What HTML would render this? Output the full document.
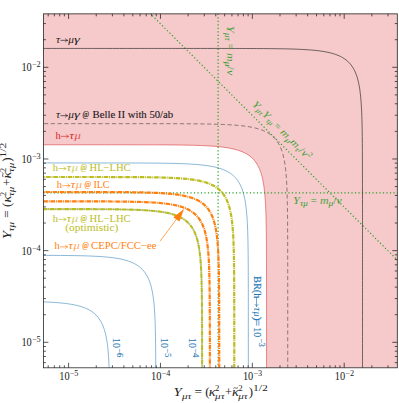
<!DOCTYPE html>
<html><head><meta charset="utf-8"><title>h to tau mu</title>
<style>html,body{margin:0;padding:0;background:#fff;}svg{display:block;}text{font-family:"Liberation Serif",serif;}.i{font-style:italic;}</style></head><body>
<svg width="399" height="403" viewBox="0 0 399 403">
<defs><clipPath id="c"><rect x="43.40" y="13.85" width="353.90" height="353.95"/></clipPath></defs>
<rect x="0" y="0" width="399" height="403" fill="#fff"/>
<g clip-path="url(#c)" fill="none" stroke-linejoin="round">
<path d="M38.40,8.85 L402.30,8.85 L402.30,372.80 L266.54,372.80 L266.54,566.47 L266.54,562.95 L266.54,559.44 L266.54,555.93 L266.54,552.41 L266.54,548.90 L266.54,545.38 L266.54,541.87 L266.54,538.36 L266.54,534.84 L266.54,531.33 L266.54,527.81 L266.54,524.30 L266.54,520.79 L266.54,517.27 L266.54,513.76 L266.54,510.24 L266.54,506.73 L266.54,503.22 L266.54,499.70 L266.54,496.19 L266.54,492.67 L266.54,489.16 L266.54,485.65 L266.54,482.13 L266.54,478.62 L266.54,475.10 L266.54,471.59 L266.54,468.08 L266.54,464.56 L266.54,461.05 L266.54,457.53 L266.54,454.02 L266.54,450.51 L266.54,446.99 L266.54,443.48 L266.54,439.96 L266.54,436.45 L266.54,432.94 L266.54,429.42 L266.54,425.91 L266.54,422.39 L266.54,418.88 L266.54,415.37 L266.54,411.85 L266.54,408.34 L266.54,404.82 L266.54,401.31 L266.54,397.80 L266.54,394.28 L266.54,390.77 L266.54,387.25 L266.54,383.74 L266.54,380.23 L266.54,376.71 L266.54,373.20 L266.54,369.68 L266.54,366.17 L266.54,362.66 L266.54,359.14 L266.54,355.63 L266.54,352.11 L266.54,348.60 L266.54,345.09 L266.54,341.57 L266.54,338.06 L266.54,334.54 L266.54,331.03 L266.54,327.52 L266.54,324.00 L266.54,320.49 L266.54,316.98 L266.54,313.46 L266.54,309.95 L266.54,306.44 L266.54,302.92 L266.54,299.41 L266.53,295.90 L266.53,292.39 L266.53,288.88 L266.53,285.36 L266.52,281.85 L266.52,278.34 L266.52,274.83 L266.51,271.33 L266.50,267.82 L266.50,264.31 L266.49,260.81 L266.47,257.30 L266.46,253.80 L266.45,250.31 L266.43,246.81 L266.40,243.32 L266.38,239.83 L266.34,236.35 L266.30,232.88 L266.26,229.41 L266.20,225.95 L266.14,222.50 L266.06,219.06 L265.97,215.64 L265.86,212.24 L265.73,208.85 L265.58,205.49 L265.39,202.16 L265.18,198.86 L264.93,195.60 L264.63,192.38 L264.28,189.21 L263.87,186.11 L263.39,183.07 L262.84,180.11 L262.20,177.24 L261.46,174.46 L260.61,171.80 L259.64,169.25 L258.54,166.83 L257.31,164.54 L255.93,162.41 L254.40,160.42 L252.72,158.58 L250.88,156.90 L248.89,155.38 L246.74,154.00 L244.46,152.77 L242.03,151.68 L239.48,150.71 L236.80,149.86 L234.02,149.13 L231.14,148.48 L228.18,147.93 L225.13,147.45 L222.02,147.05 L218.85,146.70 L215.62,146.40 L212.36,146.15 L209.05,145.93 L205.71,145.75 L202.34,145.60 L198.95,145.47 L195.54,145.36 L192.11,145.27 L188.66,145.19 L185.21,145.13 L181.74,145.07 L178.26,145.03 L174.78,144.99 L171.29,144.95 L167.80,144.93 L164.30,144.90 L160.79,144.89 L157.29,144.87 L153.78,144.86 L150.27,144.84 L146.76,144.84 L143.24,144.83 L139.73,144.82 L136.21,144.82 L132.70,144.81 L129.18,144.81 L125.66,144.80 L122.14,144.80 L118.62,144.80 L115.10,144.80 L111.58,144.79 L108.06,144.79 L104.54,144.79 L101.02,144.79 L97.50,144.79 L93.98,144.79 L90.46,144.79 L86.94,144.79 L83.42,144.79 L79.89,144.79 L76.37,144.79 L72.85,144.79 L69.33,144.79 L65.81,144.79 L62.29,144.79 L58.76,144.79 L55.24,144.79 L51.72,144.79 L48.20,144.79 L44.68,144.79 L41.16,144.79 L37.64,144.79 L34.11,144.79 L30.59,144.79 L27.07,144.79 L23.55,144.79 L20.03,144.79 L16.51,144.79 L12.98,144.79 L9.46,144.79 L5.94,144.79 L2.42,144.79 L-1.10,144.79 L-4.62,144.79 L-8.15,144.79 L-11.67,144.79 L-15.19,144.79 L-18.71,144.79 L-22.23,144.79 L-25.75,144.79 L-29.28,144.79 L-32.80,144.79 L-36.32,144.79 L-39.84,144.79 L-43.36,144.79 L-46.88,144.79 L-50.41,144.79 L-53.93,144.79 L-57.45,144.79 L-60.97,144.79 L-64.49,144.79 L-68.02,144.79 L-71.54,144.79 L-75.06,144.79 L-78.58,144.79 L-82.10,144.79 L-85.62,144.79 L-89.15,144.79 L-92.67,144.79 L-96.19,144.79 L-99.71,144.79 L-103.23,144.79 L-106.75,144.79 L-110.28,144.79 L-113.80,144.79 L-117.32,144.79 L-120.84,144.79 L-124.36,144.79 L-127.88,144.79 L-131.41,144.79 L-134.93,144.79 L-138.45,144.79 L-141.97,144.79 L-145.49,144.79 L-149.01,144.79 L-152.54,144.79 L-156.06,144.79 L38.40,144.79Z" fill="#f6c9ca" stroke="none"/>
<path d="M266.54,566.47 L266.54,562.95 L266.54,559.44 L266.54,555.93 L266.54,552.41 L266.54,548.90 L266.54,545.38 L266.54,541.87 L266.54,538.36 L266.54,534.84 L266.54,531.33 L266.54,527.81 L266.54,524.30 L266.54,520.79 L266.54,517.27 L266.54,513.76 L266.54,510.24 L266.54,506.73 L266.54,503.22 L266.54,499.70 L266.54,496.19 L266.54,492.67 L266.54,489.16 L266.54,485.65 L266.54,482.13 L266.54,478.62 L266.54,475.10 L266.54,471.59 L266.54,468.08 L266.54,464.56 L266.54,461.05 L266.54,457.53 L266.54,454.02 L266.54,450.51 L266.54,446.99 L266.54,443.48 L266.54,439.96 L266.54,436.45 L266.54,432.94 L266.54,429.42 L266.54,425.91 L266.54,422.39 L266.54,418.88 L266.54,415.37 L266.54,411.85 L266.54,408.34 L266.54,404.82 L266.54,401.31 L266.54,397.80 L266.54,394.28 L266.54,390.77 L266.54,387.25 L266.54,383.74 L266.54,380.23 L266.54,376.71 L266.54,373.20 L266.54,369.68 L266.54,366.17 L266.54,362.66 L266.54,359.14 L266.54,355.63 L266.54,352.11 L266.54,348.60 L266.54,345.09 L266.54,341.57 L266.54,338.06 L266.54,334.54 L266.54,331.03 L266.54,327.52 L266.54,324.00 L266.54,320.49 L266.54,316.98 L266.54,313.46 L266.54,309.95 L266.54,306.44 L266.54,302.92 L266.54,299.41 L266.53,295.90 L266.53,292.39 L266.53,288.88 L266.53,285.36 L266.52,281.85 L266.52,278.34 L266.52,274.83 L266.51,271.33 L266.50,267.82 L266.50,264.31 L266.49,260.81 L266.47,257.30 L266.46,253.80 L266.45,250.31 L266.43,246.81 L266.40,243.32 L266.38,239.83 L266.34,236.35 L266.30,232.88 L266.26,229.41 L266.20,225.95 L266.14,222.50 L266.06,219.06 L265.97,215.64 L265.86,212.24 L265.73,208.85 L265.58,205.49 L265.39,202.16 L265.18,198.86 L264.93,195.60 L264.63,192.38 L264.28,189.21 L263.87,186.11 L263.39,183.07 L262.84,180.11 L262.20,177.24 L261.46,174.46 L260.61,171.80 L259.64,169.25 L258.54,166.83 L257.31,164.54 L255.93,162.41 L254.40,160.42 L252.72,158.58 L250.88,156.90 L248.89,155.38 L246.74,154.00 L244.46,152.77 L242.03,151.68 L239.48,150.71 L236.80,149.86 L234.02,149.13 L231.14,148.48 L228.18,147.93 L225.13,147.45 L222.02,147.05 L218.85,146.70 L215.62,146.40 L212.36,146.15 L209.05,145.93 L205.71,145.75 L202.34,145.60 L198.95,145.47 L195.54,145.36 L192.11,145.27 L188.66,145.19 L185.21,145.13 L181.74,145.07 L178.26,145.03 L174.78,144.99 L171.29,144.95 L167.80,144.93 L164.30,144.90 L160.79,144.89 L157.29,144.87 L153.78,144.86 L150.27,144.84 L146.76,144.84 L143.24,144.83 L139.73,144.82 L136.21,144.82 L132.70,144.81 L129.18,144.81 L125.66,144.80 L122.14,144.80 L118.62,144.80 L115.10,144.80 L111.58,144.79 L108.06,144.79 L104.54,144.79 L101.02,144.79 L97.50,144.79 L93.98,144.79 L90.46,144.79 L86.94,144.79 L83.42,144.79 L79.89,144.79 L76.37,144.79 L72.85,144.79 L69.33,144.79 L65.81,144.79 L62.29,144.79 L58.76,144.79 L55.24,144.79 L51.72,144.79 L48.20,144.79 L44.68,144.79 L41.16,144.79 L37.64,144.79 L34.11,144.79 L30.59,144.79 L27.07,144.79 L23.55,144.79 L20.03,144.79 L16.51,144.79 L12.98,144.79 L9.46,144.79 L5.94,144.79 L2.42,144.79 L-1.10,144.79 L-4.62,144.79 L-8.15,144.79 L-11.67,144.79 L-15.19,144.79 L-18.71,144.79 L-22.23,144.79 L-25.75,144.79 L-29.28,144.79 L-32.80,144.79 L-36.32,144.79 L-39.84,144.79 L-43.36,144.79 L-46.88,144.79 L-50.41,144.79 L-53.93,144.79 L-57.45,144.79 L-60.97,144.79 L-64.49,144.79 L-68.02,144.79 L-71.54,144.79 L-75.06,144.79 L-78.58,144.79 L-82.10,144.79 L-85.62,144.79 L-89.15,144.79 L-92.67,144.79 L-96.19,144.79 L-99.71,144.79 L-103.23,144.79 L-106.75,144.79 L-110.28,144.79 L-113.80,144.79 L-117.32,144.79 L-120.84,144.79 L-124.36,144.79 L-127.88,144.79 L-131.41,144.79 L-134.93,144.79 L-138.45,144.79 L-141.97,144.79 L-145.49,144.79 L-149.01,144.79 L-152.54,144.79 L-156.06,144.79" stroke="#d62728" stroke-width="0.7" stroke-opacity="0.75"/>
<path d="M248.35,584.63 L248.35,581.11 L248.35,577.60 L248.35,574.08 L248.35,570.57 L248.35,567.06 L248.35,563.54 L248.35,560.03 L248.35,556.51 L248.35,553.00 L248.35,549.49 L248.35,545.97 L248.35,542.46 L248.35,538.94 L248.35,535.43 L248.35,531.92 L248.35,528.40 L248.35,524.89 L248.35,521.37 L248.35,517.86 L248.35,514.35 L248.35,510.83 L248.35,507.32 L248.35,503.80 L248.35,500.29 L248.35,496.78 L248.35,493.26 L248.35,489.75 L248.35,486.23 L248.35,482.72 L248.35,479.21 L248.35,475.69 L248.35,472.18 L248.35,468.66 L248.35,465.15 L248.35,461.64 L248.35,458.12 L248.35,454.61 L248.35,451.09 L248.35,447.58 L248.35,444.07 L248.35,440.55 L248.35,437.04 L248.35,433.52 L248.35,430.01 L248.35,426.50 L248.35,422.98 L248.35,419.47 L248.35,415.95 L248.35,412.44 L248.35,408.93 L248.35,405.41 L248.35,401.90 L248.35,398.38 L248.35,394.87 L248.35,391.36 L248.35,387.84 L248.35,384.33 L248.35,380.81 L248.35,377.30 L248.35,373.79 L248.35,370.27 L248.35,366.76 L248.35,363.24 L248.35,359.73 L248.35,356.22 L248.35,352.70 L248.35,349.19 L248.35,345.67 L248.34,342.16 L248.34,338.65 L248.34,335.13 L248.34,331.62 L248.34,328.11 L248.34,324.59 L248.34,321.08 L248.34,317.57 L248.34,314.06 L248.34,310.54 L248.33,307.03 L248.33,303.52 L248.33,300.01 L248.32,296.50 L248.32,292.99 L248.31,289.48 L248.31,285.98 L248.30,282.47 L248.29,278.97 L248.28,275.46 L248.26,271.96 L248.25,268.46 L248.23,264.97 L248.21,261.48 L248.18,257.99 L248.15,254.51 L248.11,251.03 L248.06,247.57 L248.01,244.11 L247.94,240.66 L247.86,237.22 L247.77,233.80 L247.66,230.39 L247.53,227.01 L247.38,223.65 L247.20,220.32 L246.98,217.02 L246.73,213.75 L246.43,210.54 L246.08,207.37 L245.67,204.27 L245.20,201.23 L244.64,198.27 L244.00,195.40 L243.26,192.62 L242.41,189.95 L241.44,187.41 L240.34,184.99 L239.11,182.70 L237.73,180.56 L236.20,178.58 L234.52,176.74 L232.68,175.06 L230.69,173.54 L228.55,172.16 L226.26,170.93 L223.83,169.84 L221.28,168.87 L218.61,168.02 L215.82,167.28 L212.95,166.64 L209.98,166.09 L206.93,165.61 L203.82,165.20 L200.65,164.86 L197.43,164.56 L194.16,164.31 L190.85,164.09 L187.51,163.91 L184.14,163.76 L180.75,163.63 L177.34,163.52 L173.91,163.43 L170.46,163.35 L167.01,163.28 L163.54,163.23 L160.06,163.18 L156.58,163.15 L153.09,163.11 L149.60,163.09 L146.10,163.06 L142.60,163.04 L139.09,163.03 L135.58,163.01 L132.07,163.00 L128.56,162.99 L125.05,162.99 L121.53,162.98 L118.02,162.97 L114.50,162.97 L110.98,162.96 L107.46,162.96 L103.94,162.96 L100.42,162.96 L96.90,162.95 L93.38,162.95 L89.86,162.95 L86.34,162.95 L82.82,162.95 L79.30,162.95 L75.78,162.95 L72.26,162.95 L68.74,162.95 L65.22,162.95 L61.70,162.95 L58.17,162.95 L54.65,162.95 L51.13,162.95 L47.61,162.94 L44.09,162.94 L40.57,162.94 L37.05,162.94 L33.52,162.94 L30.00,162.94 L26.48,162.94 L22.96,162.94 L19.44,162.94 L15.92,162.94 L12.39,162.94 L8.87,162.94 L5.35,162.94 L1.83,162.94 L-1.69,162.94 L-5.21,162.94 L-8.74,162.94 L-12.26,162.94 L-15.78,162.94 L-19.30,162.94 L-22.82,162.94 L-26.34,162.94 L-29.87,162.94 L-33.39,162.94 L-36.91,162.94 L-40.43,162.94 L-43.95,162.94 L-47.47,162.94 L-51.00,162.94 L-54.52,162.94 L-58.04,162.94 L-61.56,162.94 L-65.08,162.94 L-68.60,162.94 L-72.13,162.94 L-75.65,162.94 L-79.17,162.94 L-82.69,162.94 L-86.21,162.94 L-89.73,162.94 L-93.26,162.94 L-96.78,162.94 L-100.30,162.94 L-103.82,162.94 L-107.34,162.94 L-110.86,162.94 L-114.39,162.94 L-117.91,162.94 L-121.43,162.94 L-124.95,162.94 L-128.47,162.94 L-131.99,162.94 L-135.52,162.94 L-139.04,162.94 L-142.56,162.94 L-146.08,162.94 L-149.60,162.94 L-153.12,162.94 L-156.65,162.94 L-160.17,162.94 L-163.69,162.94 L-167.21,162.94 L-170.73,162.94 L-174.25,162.94" stroke="#1f77b4" stroke-width="0.85" stroke-opacity="0.62"/>
<path d="M202.11,630.77 L202.11,627.25 L202.11,623.74 L202.11,620.22 L202.11,616.71 L202.11,613.20 L202.11,609.68 L202.11,606.17 L202.11,602.65 L202.11,599.14 L202.11,595.63 L202.11,592.11 L202.11,588.60 L202.11,585.08 L202.11,581.57 L202.11,578.06 L202.11,574.54 L202.11,571.03 L202.11,567.51 L202.11,564.00 L202.11,560.49 L202.11,556.97 L202.11,553.46 L202.11,549.94 L202.11,546.43 L202.11,542.92 L202.11,539.40 L202.11,535.89 L202.11,532.37 L202.11,528.86 L202.11,525.35 L202.11,521.83 L202.11,518.32 L202.11,514.80 L202.11,511.29 L202.11,507.78 L202.11,504.26 L202.11,500.75 L202.11,497.23 L202.11,493.72 L202.11,490.21 L202.11,486.69 L202.11,483.18 L202.11,479.66 L202.11,476.15 L202.11,472.64 L202.11,469.12 L202.11,465.61 L202.11,462.09 L202.11,458.58 L202.11,455.07 L202.11,451.55 L202.11,448.04 L202.11,444.52 L202.11,441.01 L202.11,437.50 L202.11,433.98 L202.11,430.47 L202.11,426.95 L202.11,423.44 L202.11,419.93 L202.11,416.41 L202.11,412.90 L202.11,409.38 L202.11,405.87 L202.11,402.36 L202.10,398.84 L202.10,395.33 L202.10,391.82 L202.10,388.30 L202.10,384.79 L202.10,381.27 L202.10,377.76 L202.10,374.25 L202.10,370.73 L202.10,367.22 L202.10,363.71 L202.10,360.20 L202.09,356.68 L202.09,353.17 L202.09,349.66 L202.09,346.15 L202.08,342.64 L202.08,339.13 L202.07,335.62 L202.07,332.12 L202.06,328.61 L202.05,325.11 L202.04,321.60 L202.02,318.10 L202.01,314.60 L201.99,311.11 L201.96,307.62 L201.94,304.13 L201.90,300.65 L201.87,297.17 L201.82,293.71 L201.77,290.25 L201.70,286.80 L201.62,283.36 L201.53,279.94 L201.42,276.53 L201.29,273.15 L201.14,269.79 L200.96,266.46 L200.74,263.16 L200.49,259.89 L200.19,256.68 L199.84,253.51 L199.43,250.41 L198.95,247.37 L198.40,244.41 L197.76,241.54 L197.02,238.76 L196.17,236.09 L195.20,233.55 L194.10,231.13 L192.87,228.84 L191.49,226.70 L189.96,224.72 L188.28,222.88 L186.44,221.20 L184.45,219.68 L182.30,218.30 L180.02,217.07 L177.59,215.98 L175.04,215.01 L172.36,214.16 L169.58,213.42 L166.70,212.78 L163.74,212.23 L160.69,211.75 L157.58,211.34 L154.41,211.00 L151.19,210.70 L147.92,210.45 L144.61,210.23 L141.27,210.05 L137.90,209.90 L134.51,209.77 L131.10,209.66 L127.67,209.57 L124.22,209.49 L120.77,209.42 L117.30,209.37 L113.82,209.32 L110.34,209.29 L106.85,209.25 L103.36,209.23 L99.86,209.20 L96.36,209.18 L92.85,209.17 L89.34,209.15 L85.83,209.14 L82.32,209.13 L78.81,209.13 L75.29,209.12 L71.78,209.11 L68.26,209.11 L64.74,209.10 L61.22,209.10 L57.70,209.10 L54.18,209.10 L50.66,209.09 L47.14,209.09 L43.62,209.09 L40.10,209.09 L36.58,209.09 L33.06,209.09 L29.54,209.09 L26.02,209.09 L22.50,209.09 L18.98,209.09 L15.46,209.09 L11.93,209.09 L8.41,209.09 L4.89,209.09 L1.37,209.09 L-2.15,209.09 L-5.67,209.08 L-9.20,209.08 L-12.72,209.08 L-16.24,209.08 L-19.76,209.08 L-23.28,209.08 L-26.80,209.08 L-30.32,209.08 L-33.85,209.08 L-37.37,209.08 L-40.89,209.08 L-44.41,209.08 L-47.93,209.08 L-51.45,209.08 L-54.98,209.08 L-58.50,209.08 L-62.02,209.08 L-65.54,209.08 L-69.06,209.08 L-72.58,209.08 L-76.11,209.08 L-79.63,209.08 L-83.15,209.08 L-86.67,209.08 L-90.19,209.08 L-93.72,209.08 L-97.24,209.08 L-100.76,209.08 L-104.28,209.08 L-107.80,209.08 L-111.32,209.08 L-114.85,209.08 L-118.37,209.08 L-121.89,209.08 L-125.41,209.08 L-128.93,209.08 L-132.45,209.08 L-135.98,209.08 L-139.50,209.08 L-143.02,209.08 L-146.54,209.08 L-150.06,209.08 L-153.58,209.08 L-157.11,209.08 L-160.63,209.08 L-164.15,209.08 L-167.67,209.08 L-171.19,209.08 L-174.71,209.08 L-178.24,209.08 L-181.76,209.08 L-185.28,209.08 L-188.80,209.08 L-192.32,209.08 L-195.84,209.08 L-199.37,209.08 L-202.89,209.08 L-206.41,209.08 L-209.93,209.08 L-213.45,209.08 L-216.97,209.08 L-220.50,209.08" stroke="#1f77b4" stroke-width="0.85" stroke-opacity="0.62"/>
<path d="M155.81,676.96 L155.81,673.45 L155.81,669.93 L155.81,666.42 L155.81,662.91 L155.81,659.39 L155.81,655.88 L155.81,652.36 L155.81,648.85 L155.81,645.34 L155.81,641.82 L155.81,638.31 L155.81,634.79 L155.81,631.28 L155.81,627.77 L155.81,624.25 L155.81,620.74 L155.81,617.22 L155.81,613.71 L155.81,610.20 L155.81,606.68 L155.81,603.17 L155.81,599.65 L155.81,596.14 L155.81,592.63 L155.81,589.11 L155.81,585.60 L155.81,582.08 L155.81,578.57 L155.81,575.05 L155.81,571.54 L155.81,568.03 L155.81,564.51 L155.81,561.00 L155.81,557.48 L155.81,553.97 L155.81,550.46 L155.81,546.94 L155.81,543.43 L155.81,539.91 L155.81,536.40 L155.81,532.89 L155.81,529.37 L155.81,525.86 L155.81,522.34 L155.81,518.83 L155.81,515.32 L155.81,511.80 L155.81,508.29 L155.81,504.77 L155.81,501.26 L155.81,497.75 L155.81,494.23 L155.81,490.72 L155.81,487.20 L155.81,483.69 L155.81,480.18 L155.81,476.66 L155.81,473.15 L155.81,469.63 L155.81,466.12 L155.81,462.61 L155.81,459.09 L155.81,455.58 L155.81,452.07 L155.81,448.55 L155.81,445.04 L155.81,441.52 L155.81,438.01 L155.81,434.50 L155.81,430.98 L155.81,427.47 L155.81,423.96 L155.81,420.44 L155.80,416.93 L155.80,413.42 L155.80,409.90 L155.80,406.39 L155.80,402.88 L155.80,399.37 L155.79,395.86 L155.79,392.35 L155.79,388.84 L155.78,385.33 L155.78,381.82 L155.77,378.31 L155.76,374.81 L155.75,371.30 L155.74,367.80 L155.73,364.30 L155.71,360.80 L155.69,357.30 L155.67,353.81 L155.64,350.33 L155.61,346.84 L155.57,343.37 L155.52,339.90 L155.47,336.44 L155.40,332.99 L155.33,329.56 L155.23,326.13 L155.13,322.73 L155.00,319.34 L154.84,315.98 L154.66,312.65 L154.45,309.35 L154.19,306.09 L153.90,302.87 L153.55,299.71 L153.14,296.60 L152.66,293.56 L152.10,290.60 L151.46,287.73 L150.72,284.96 L149.87,282.29 L148.90,279.74 L147.81,277.32 L146.57,275.04 L145.20,272.90 L143.67,270.91 L141.98,269.08 L140.14,267.40 L138.15,265.87 L136.01,264.50 L133.72,263.26 L131.30,262.17 L128.74,261.21 L126.07,260.36 L123.29,259.62 L120.41,258.98 L117.44,258.42 L114.40,257.95 L111.29,257.54 L108.11,257.19 L104.89,256.89 L101.62,256.64 L98.31,256.43 L94.97,256.25 L91.61,256.09 L88.21,255.96 L84.80,255.85 L81.37,255.76 L77.93,255.68 L74.47,255.62 L71.00,255.57 L67.53,255.52 L64.05,255.48 L60.56,255.45 L57.06,255.42 L53.56,255.40 L50.06,255.38 L46.55,255.36 L43.05,255.35 L39.54,255.34 L36.02,255.33 L32.51,255.32 L29.00,255.31 L25.48,255.31 L21.96,255.30 L18.44,255.30 L14.93,255.30 L11.41,255.29 L7.89,255.29 L4.37,255.29 L0.85,255.29 L-2.67,255.29 L-6.19,255.29 L-9.71,255.28 L-13.23,255.28 L-16.76,255.28 L-20.28,255.28 L-23.80,255.28 L-27.32,255.28 L-30.84,255.28 L-34.36,255.28 L-37.88,255.28 L-41.40,255.28 L-44.93,255.28 L-48.45,255.28 L-51.97,255.28 L-55.49,255.28 L-59.01,255.28 L-62.53,255.28 L-66.06,255.28 L-69.58,255.28 L-73.10,255.28 L-76.62,255.28 L-80.14,255.28 L-83.66,255.28 L-87.19,255.28 L-90.71,255.28 L-94.23,255.28 L-97.75,255.28 L-101.27,255.28 L-104.79,255.28 L-108.32,255.28 L-111.84,255.28 L-115.36,255.28 L-118.88,255.28 L-122.40,255.28 L-125.92,255.28 L-129.45,255.28 L-132.97,255.28 L-136.49,255.28 L-140.01,255.28 L-143.53,255.28 L-147.05,255.28 L-150.58,255.28 L-154.10,255.28 L-157.62,255.28 L-161.14,255.28 L-164.66,255.28 L-168.18,255.28 L-171.71,255.28 L-175.23,255.28 L-178.75,255.28 L-182.27,255.28 L-185.79,255.28 L-189.31,255.28 L-192.84,255.28 L-196.36,255.28 L-199.88,255.28 L-203.40,255.28 L-206.92,255.28 L-210.44,255.28 L-213.97,255.28 L-217.49,255.28 L-221.01,255.28 L-224.53,255.28 L-228.05,255.28 L-231.57,255.28 L-235.10,255.28 L-238.62,255.28 L-242.14,255.28 L-245.66,255.28 L-249.18,255.28 L-252.70,255.28 L-256.23,255.28 L-259.75,255.28 L-263.27,255.28 L-266.79,255.28" stroke="#1f77b4" stroke-width="0.85" stroke-opacity="0.62"/>
<path d="M109.81,722.86 L109.81,719.35 L109.81,715.83 L109.81,712.32 L109.81,708.80 L109.81,705.29 L109.81,701.77 L109.81,698.26 L109.81,694.75 L109.81,691.23 L109.81,687.72 L109.81,684.20 L109.81,680.69 L109.81,677.18 L109.81,673.66 L109.81,670.15 L109.81,666.63 L109.81,663.12 L109.81,659.61 L109.81,656.09 L109.81,652.58 L109.81,649.06 L109.81,645.55 L109.81,642.04 L109.81,638.52 L109.81,635.01 L109.81,631.49 L109.81,627.98 L109.81,624.47 L109.81,620.95 L109.81,617.44 L109.81,613.92 L109.81,610.41 L109.81,606.90 L109.81,603.38 L109.81,599.87 L109.81,596.35 L109.81,592.84 L109.81,589.33 L109.81,585.81 L109.81,582.30 L109.81,578.78 L109.81,575.27 L109.81,571.76 L109.81,568.24 L109.81,564.73 L109.81,561.21 L109.81,557.70 L109.81,554.19 L109.81,550.67 L109.81,547.16 L109.81,543.64 L109.81,540.13 L109.81,536.62 L109.81,533.10 L109.81,529.59 L109.81,526.07 L109.81,522.56 L109.81,519.05 L109.81,515.53 L109.81,512.02 L109.81,508.50 L109.81,504.99 L109.81,501.48 L109.81,497.96 L109.81,494.45 L109.81,490.94 L109.81,487.42 L109.81,483.91 L109.81,480.39 L109.81,476.88 L109.81,473.37 L109.81,469.85 L109.81,466.34 L109.81,462.83 L109.81,459.31 L109.80,455.80 L109.80,452.29 L109.80,448.78 L109.80,445.27 L109.80,441.75 L109.79,438.24 L109.79,434.73 L109.78,431.22 L109.78,427.72 L109.77,424.21 L109.76,420.70 L109.75,417.20 L109.74,413.70 L109.73,410.20 L109.71,406.70 L109.69,403.20 L109.67,399.71 L109.64,396.22 L109.61,392.74 L109.57,389.27 L109.53,385.80 L109.47,382.34 L109.41,378.89 L109.33,375.45 L109.24,372.03 L109.13,368.63 L109.00,365.24 L108.84,361.88 L108.66,358.55 L108.45,355.25 L108.20,351.99 L107.90,348.77 L107.55,345.61 L107.14,342.50 L106.66,339.46 L106.11,336.50 L105.46,333.63 L104.72,330.85 L103.87,328.19 L102.91,325.64 L101.81,323.22 L100.58,320.94 L99.20,318.80 L97.67,316.81 L95.98,314.97 L94.15,313.30 L92.15,311.77 L90.01,310.39 L87.72,309.16 L85.30,308.07 L82.74,307.10 L80.07,306.26 L77.29,305.52 L74.41,304.88 L71.44,304.32 L68.40,303.85 L65.29,303.44 L62.12,303.09 L58.89,302.79 L55.62,302.54 L52.32,302.32 L48.98,302.14 L45.61,301.99 L42.22,301.86 L38.80,301.75 L35.37,301.66 L31.93,301.58 L28.47,301.52 L25.01,301.46 L21.53,301.42 L18.05,301.38 L14.56,301.35 L11.06,301.32 L7.56,301.30 L4.06,301.28 L0.56,301.26 L-2.95,301.25 L-6.46,301.24 L-9.97,301.23 L-13.49,301.22 L-17.00,301.21 L-20.52,301.21 L-24.04,301.20 L-27.55,301.20 L-31.07,301.19 L-34.59,301.19 L-38.11,301.19 L-41.63,301.19 L-45.15,301.19 L-48.67,301.18 L-52.19,301.18 L-55.71,301.18 L-59.23,301.18 L-62.75,301.18 L-66.27,301.18 L-69.80,301.18 L-73.32,301.18 L-76.84,301.18 L-80.36,301.18 L-83.88,301.18 L-87.40,301.18 L-90.92,301.18 L-94.45,301.18 L-97.97,301.18 L-101.49,301.18 L-105.01,301.18 L-108.53,301.18 L-112.05,301.18 L-115.58,301.18 L-119.10,301.18 L-122.62,301.18 L-126.14,301.18 L-129.66,301.18 L-133.18,301.18 L-136.71,301.18 L-140.23,301.18 L-143.75,301.18 L-147.27,301.18 L-150.79,301.18 L-154.31,301.18 L-157.84,301.18 L-161.36,301.18 L-164.88,301.18 L-168.40,301.18 L-171.92,301.18 L-175.44,301.18 L-178.97,301.18 L-182.49,301.18 L-186.01,301.18 L-189.53,301.18 L-193.05,301.18 L-196.57,301.18 L-200.10,301.18 L-203.62,301.18 L-207.14,301.18 L-210.66,301.18 L-214.18,301.18 L-217.70,301.18 L-221.23,301.18 L-224.75,301.18 L-228.27,301.18 L-231.79,301.18 L-235.31,301.18 L-238.83,301.18 L-242.36,301.18 L-245.88,301.18 L-249.40,301.18 L-252.92,301.18 L-256.44,301.18 L-259.96,301.18 L-263.49,301.18 L-267.01,301.18 L-270.53,301.18 L-274.05,301.18 L-277.57,301.18 L-281.09,301.18 L-284.62,301.18 L-288.14,301.18 L-291.66,301.18 L-295.18,301.18 L-298.70,301.18 L-302.22,301.18 L-305.75,301.18 L-309.27,301.18 L-312.79,301.18" stroke="#1f77b4" stroke-width="0.85" stroke-opacity="0.62"/>
<path d="M218.10,13.85 V367.80" stroke="#2ca02c" stroke-width="1.2" stroke-dasharray="1.2 2.3"/>
<path d="M43.40,192.90 H397.30" stroke="#2ca02c" stroke-width="1.2" stroke-dasharray="1.2 2.3"/>
<path d="M139.79,3.13 L408.51,271.27" stroke="#2ca02c" stroke-width="1.2" stroke-dasharray="1.2 2.3"/>
<path d="M362.50,470.12 L362.50,466.61 L362.50,463.09 L362.50,459.58 L362.50,456.07 L362.50,452.55 L362.50,449.04 L362.50,445.52 L362.50,442.01 L362.50,438.50 L362.50,434.98 L362.50,431.47 L362.50,427.95 L362.50,424.44 L362.50,420.93 L362.50,417.41 L362.50,413.90 L362.50,410.38 L362.50,406.87 L362.50,403.35 L362.50,399.84 L362.50,396.33 L362.50,392.81 L362.50,389.30 L362.50,385.78 L362.50,382.27 L362.50,378.76 L362.50,375.24 L362.50,371.73 L362.50,368.21 L362.50,364.70 L362.50,361.19 L362.50,357.67 L362.50,354.16 L362.50,350.64 L362.50,347.13 L362.50,343.62 L362.50,340.10 L362.50,336.59 L362.50,333.07 L362.50,329.56 L362.50,326.05 L362.50,322.53 L362.50,319.02 L362.50,315.50 L362.50,311.99 L362.50,308.48 L362.50,304.96 L362.50,301.45 L362.50,297.93 L362.50,294.42 L362.50,290.91 L362.50,287.39 L362.50,283.88 L362.50,280.36 L362.50,276.85 L362.50,273.34 L362.50,269.82 L362.50,266.31 L362.50,262.79 L362.50,259.28 L362.50,255.77 L362.50,252.25 L362.50,248.74 L362.50,245.23 L362.50,241.71 L362.50,238.20 L362.50,234.68 L362.50,231.17 L362.50,227.66 L362.50,224.14 L362.50,220.63 L362.50,217.12 L362.50,213.60 L362.50,210.09 L362.49,206.58 L362.49,203.06 L362.49,199.55 L362.49,196.04 L362.49,192.53 L362.48,189.02 L362.48,185.51 L362.48,182.00 L362.47,178.49 L362.47,174.98 L362.46,171.47 L362.45,167.97 L362.44,164.46 L362.43,160.96 L362.42,157.46 L362.40,153.96 L362.38,150.46 L362.36,146.97 L362.33,143.49 L362.30,140.00 L362.26,136.53 L362.21,133.06 L362.16,129.60 L362.09,126.15 L362.02,122.72 L361.93,119.29 L361.82,115.89 L361.69,112.50 L361.53,109.14 L361.35,105.81 L361.14,102.51 L360.88,99.25 L360.59,96.03 L360.24,92.87 L359.83,89.76 L359.35,86.72 L358.79,83.76 L358.15,80.89 L357.41,78.12 L356.56,75.45 L355.59,72.90 L354.50,70.48 L353.26,68.20 L351.89,66.06 L350.36,64.07 L348.67,62.24 L346.83,60.56 L344.84,59.03 L342.70,57.66 L340.41,56.42 L337.99,55.33 L335.43,54.36 L332.76,53.52 L329.98,52.78 L327.10,52.14 L324.13,51.58 L321.09,51.11 L317.98,50.70 L314.80,50.35 L311.58,50.05 L308.31,49.80 L305.00,49.59 L301.66,49.41 L298.30,49.25 L294.90,49.12 L291.49,49.01 L288.06,48.92 L284.62,48.84 L281.16,48.78 L277.69,48.72 L274.22,48.68 L270.74,48.64 L267.25,48.61 L263.75,48.58 L260.25,48.56 L256.75,48.54 L253.25,48.52 L249.74,48.51 L246.23,48.50 L242.71,48.49 L239.20,48.48 L235.69,48.47 L232.17,48.47 L228.65,48.46 L225.14,48.46 L221.62,48.46 L218.10,48.45 L214.58,48.45 L211.06,48.45 L207.54,48.45 L204.02,48.45 L200.50,48.45 L196.98,48.44 L193.46,48.44 L189.94,48.44 L186.41,48.44 L182.89,48.44 L179.37,48.44 L175.85,48.44 L172.33,48.44 L168.81,48.44 L165.29,48.44 L161.76,48.44 L158.24,48.44 L154.72,48.44 L151.20,48.44 L147.68,48.44 L144.16,48.44 L140.63,48.44 L137.11,48.44 L133.59,48.44 L130.07,48.44 L126.55,48.44 L123.03,48.44 L119.50,48.44 L115.98,48.44 L112.46,48.44 L108.94,48.44 L105.42,48.44 L101.90,48.44 L98.37,48.44 L94.85,48.44 L91.33,48.44 L87.81,48.44 L84.29,48.44 L80.77,48.44 L77.24,48.44 L73.72,48.44 L70.20,48.44 L66.68,48.44 L63.16,48.44 L59.64,48.44 L56.11,48.44 L52.59,48.44 L49.07,48.44 L45.55,48.44 L42.03,48.44 L38.51,48.44 L34.98,48.44 L31.46,48.44 L27.94,48.44 L24.42,48.44 L20.90,48.44 L17.38,48.44 L13.85,48.44 L10.33,48.44 L6.81,48.44 L3.29,48.44 L-0.23,48.44 L-3.75,48.44 L-7.28,48.44 L-10.80,48.44 L-14.32,48.44 L-17.84,48.44 L-21.36,48.44 L-24.88,48.44 L-28.41,48.44 L-31.93,48.44 L-35.45,48.44 L-38.97,48.44 L-42.49,48.44 L-46.01,48.44 L-49.54,48.44 L-53.06,48.44 L-56.58,48.44 L-60.10,48.44" stroke="#333" stroke-width="0.7"/>
<path d="M287.72,545.34 L287.72,541.82 L287.72,538.31 L287.72,534.79 L287.72,531.28 L287.72,527.77 L287.72,524.25 L287.72,520.74 L287.72,517.22 L287.72,513.71 L287.72,510.20 L287.72,506.68 L287.72,503.17 L287.72,499.65 L287.72,496.14 L287.72,492.63 L287.72,489.11 L287.72,485.60 L287.72,482.08 L287.72,478.57 L287.72,475.06 L287.72,471.54 L287.72,468.03 L287.72,464.51 L287.72,461.00 L287.72,457.49 L287.72,453.97 L287.72,450.46 L287.72,446.94 L287.72,443.43 L287.72,439.92 L287.72,436.40 L287.72,432.89 L287.72,429.37 L287.72,425.86 L287.72,422.35 L287.72,418.83 L287.72,415.32 L287.72,411.80 L287.72,408.29 L287.72,404.78 L287.72,401.26 L287.72,397.75 L287.72,394.23 L287.72,390.72 L287.72,387.21 L287.72,383.69 L287.72,380.18 L287.72,376.66 L287.72,373.15 L287.72,369.64 L287.72,366.12 L287.72,362.61 L287.72,359.09 L287.72,355.58 L287.72,352.07 L287.72,348.55 L287.72,345.04 L287.72,341.52 L287.72,338.01 L287.72,334.50 L287.72,330.98 L287.72,327.47 L287.72,323.95 L287.72,320.44 L287.72,316.93 L287.72,313.41 L287.72,309.90 L287.72,306.39 L287.72,302.87 L287.72,299.36 L287.72,295.84 L287.72,292.33 L287.72,288.82 L287.72,285.30 L287.72,281.79 L287.71,278.28 L287.71,274.77 L287.71,271.25 L287.71,267.74 L287.71,264.23 L287.70,260.72 L287.70,257.21 L287.69,253.70 L287.69,250.19 L287.68,246.69 L287.67,243.18 L287.66,239.68 L287.65,236.17 L287.64,232.67 L287.62,229.17 L287.60,225.68 L287.58,222.19 L287.55,218.70 L287.52,215.22 L287.48,211.74 L287.44,208.28 L287.38,204.82 L287.32,201.37 L287.24,197.93 L287.15,194.51 L287.04,191.10 L286.91,187.72 L286.75,184.36 L286.57,181.03 L286.36,177.73 L286.11,174.46 L285.81,171.25 L285.46,168.08 L285.05,164.98 L284.57,161.94 L284.02,158.98 L283.37,156.11 L282.63,153.33 L281.78,150.66 L280.82,148.12 L279.72,145.70 L278.49,143.41 L277.11,141.27 L275.58,139.29 L273.89,137.45 L272.06,135.77 L270.06,134.25 L267.92,132.87 L265.63,131.64 L263.21,130.55 L260.65,129.58 L257.98,128.73 L255.20,127.99 L252.32,127.35 L249.35,126.80 L246.31,126.32 L243.20,125.91 L240.03,125.57 L236.80,125.27 L233.53,125.02 L230.23,124.80 L226.89,124.62 L223.52,124.47 L220.13,124.34 L216.71,124.23 L213.28,124.14 L209.84,124.06 L206.38,123.99 L202.92,123.94 L199.44,123.89 L195.96,123.86 L192.47,123.82 L188.97,123.80 L185.48,123.77 L181.97,123.75 L178.47,123.74 L174.96,123.72 L171.45,123.71 L167.94,123.70 L164.42,123.70 L160.91,123.69 L157.39,123.68 L153.87,123.68 L150.36,123.67 L146.84,123.67 L143.32,123.67 L139.80,123.67 L136.28,123.66 L132.76,123.66 L129.24,123.66 L125.72,123.66 L122.20,123.66 L118.68,123.66 L115.16,123.66 L111.64,123.66 L108.11,123.66 L104.59,123.66 L101.07,123.66 L97.55,123.66 L94.03,123.66 L90.51,123.66 L86.99,123.66 L83.46,123.65 L79.94,123.65 L76.42,123.65 L72.90,123.65 L69.38,123.65 L65.86,123.65 L62.33,123.65 L58.81,123.65 L55.29,123.65 L51.77,123.65 L48.25,123.65 L44.73,123.65 L41.20,123.65 L37.68,123.65 L34.16,123.65 L30.64,123.65 L27.12,123.65 L23.60,123.65 L20.07,123.65 L16.55,123.65 L13.03,123.65 L9.51,123.65 L5.99,123.65 L2.47,123.65 L-1.06,123.65 L-4.58,123.65 L-8.10,123.65 L-11.62,123.65 L-15.14,123.65 L-18.66,123.65 L-22.19,123.65 L-25.71,123.65 L-29.23,123.65 L-32.75,123.65 L-36.27,123.65 L-39.79,123.65 L-43.32,123.65 L-46.84,123.65 L-50.36,123.65 L-53.88,123.65 L-57.40,123.65 L-60.92,123.65 L-64.45,123.65 L-67.97,123.65 L-71.49,123.65 L-75.01,123.65 L-78.53,123.65 L-82.05,123.65 L-85.58,123.65 L-89.10,123.65 L-92.62,123.65 L-96.14,123.65 L-99.66,123.65 L-103.18,123.65 L-106.71,123.65 L-110.23,123.65 L-113.75,123.65 L-117.27,123.65 L-120.79,123.65 L-124.31,123.65 L-127.84,123.65 L-131.36,123.65 L-134.88,123.65" stroke="#333" stroke-width="0.55" stroke-dasharray="4.2 2.6"/>
<path d="M234.27,598.67 L234.27,595.16 L234.27,591.64 L234.27,588.13 L234.27,584.61 L234.27,581.10 L234.27,577.58 L234.27,574.07 L234.27,570.56 L234.27,567.04 L234.27,563.53 L234.27,560.01 L234.27,556.50 L234.27,552.99 L234.27,549.47 L234.27,545.96 L234.27,542.44 L234.27,538.93 L234.27,535.42 L234.27,531.90 L234.27,528.39 L234.27,524.87 L234.27,521.36 L234.27,517.85 L234.27,514.33 L234.27,510.82 L234.27,507.30 L234.27,503.79 L234.27,500.28 L234.27,496.76 L234.27,493.25 L234.27,489.73 L234.27,486.22 L234.27,482.71 L234.27,479.19 L234.27,475.68 L234.27,472.16 L234.27,468.65 L234.27,465.14 L234.27,461.62 L234.27,458.11 L234.27,454.59 L234.27,451.08 L234.27,447.57 L234.27,444.05 L234.27,440.54 L234.27,437.02 L234.27,433.51 L234.27,430.00 L234.27,426.48 L234.27,422.97 L234.27,419.45 L234.27,415.94 L234.27,412.43 L234.27,408.91 L234.27,405.40 L234.27,401.88 L234.27,398.37 L234.27,394.86 L234.27,391.34 L234.27,387.83 L234.27,384.31 L234.27,380.80 L234.27,377.29 L234.27,373.77 L234.27,370.26 L234.27,366.75 L234.27,363.23 L234.27,359.72 L234.27,356.20 L234.27,352.69 L234.27,349.18 L234.27,345.66 L234.27,342.15 L234.27,338.64 L234.27,335.12 L234.27,331.61 L234.26,328.10 L234.26,324.59 L234.26,321.08 L234.26,317.56 L234.25,314.05 L234.25,310.54 L234.24,307.03 L234.24,303.53 L234.23,300.02 L234.22,296.51 L234.21,293.01 L234.20,289.51 L234.19,286.01 L234.17,282.51 L234.15,279.01 L234.13,275.52 L234.10,272.03 L234.07,268.55 L234.03,265.08 L233.99,261.61 L233.93,258.15 L233.87,254.70 L233.79,251.26 L233.70,247.84 L233.59,244.44 L233.46,241.05 L233.31,237.69 L233.12,234.36 L232.91,231.06 L232.66,227.80 L232.36,224.58 L232.01,221.42 L231.60,218.31 L231.12,215.27 L230.57,212.31 L229.92,209.44 L229.18,206.66 L228.34,204.00 L227.37,201.45 L226.27,199.03 L225.04,196.75 L223.66,194.61 L222.13,192.62 L220.45,190.78 L218.61,189.11 L216.61,187.58 L214.47,186.20 L212.18,184.97 L209.76,183.88 L207.20,182.91 L204.53,182.07 L201.75,181.33 L198.87,180.69 L195.91,180.13 L192.86,179.66 L189.75,179.25 L186.58,178.90 L183.35,178.60 L180.08,178.35 L176.78,178.13 L173.44,177.95 L170.07,177.80 L166.68,177.67 L163.26,177.56 L159.83,177.47 L156.39,177.39 L152.93,177.33 L149.47,177.27 L145.99,177.23 L142.51,177.19 L139.02,177.16 L135.52,177.13 L132.03,177.11 L128.52,177.09 L125.02,177.07 L121.51,177.06 L118.00,177.05 L114.49,177.04 L110.97,177.03 L107.46,177.02 L103.94,177.02 L100.43,177.01 L96.91,177.01 L93.39,177.00 L89.87,177.00 L86.35,177.00 L82.83,177.00 L79.31,177.00 L75.79,176.99 L72.27,176.99 L68.75,176.99 L65.23,176.99 L61.71,176.99 L58.19,176.99 L54.67,176.99 L51.14,176.99 L47.62,176.99 L44.10,176.99 L40.58,176.99 L37.06,176.99 L33.54,176.99 L30.02,176.99 L26.49,176.99 L22.97,176.99 L19.45,176.99 L15.93,176.99 L12.41,176.99 L8.89,176.99 L5.36,176.99 L1.84,176.99 L-1.68,176.99 L-5.20,176.99 L-8.72,176.99 L-12.24,176.99 L-15.77,176.99 L-19.29,176.99 L-22.81,176.99 L-26.33,176.99 L-29.85,176.99 L-33.37,176.99 L-36.90,176.99 L-40.42,176.99 L-43.94,176.99 L-47.46,176.99 L-50.98,176.99 L-54.50,176.99 L-58.03,176.99 L-61.55,176.99 L-65.07,176.99 L-68.59,176.99 L-72.11,176.99 L-75.63,176.99 L-79.16,176.99 L-82.68,176.99 L-86.20,176.99 L-89.72,176.99 L-93.24,176.99 L-96.76,176.99 L-100.29,176.99 L-103.81,176.99 L-107.33,176.99 L-110.85,176.99 L-114.37,176.99 L-117.89,176.99 L-121.42,176.99 L-124.94,176.99 L-128.46,176.99 L-131.98,176.99 L-135.50,176.99 L-139.02,176.99 L-142.55,176.99 L-146.07,176.99 L-149.59,176.99 L-153.11,176.99 L-156.63,176.99 L-160.15,176.99 L-163.68,176.99 L-167.20,176.99 L-170.72,176.99 L-174.24,176.99 L-177.76,176.99 L-181.29,176.99 L-184.81,176.99 L-188.33,176.99" stroke="#bcbd22" stroke-width="2.2" stroke-dasharray="4.6 0.8 1.0 0.8"/>
<path d="M219.21,613.70 L219.21,610.19 L219.21,606.67 L219.21,603.16 L219.21,599.64 L219.21,596.13 L219.21,592.62 L219.21,589.10 L219.21,585.59 L219.21,582.07 L219.21,578.56 L219.21,575.05 L219.21,571.53 L219.21,568.02 L219.21,564.50 L219.21,560.99 L219.21,557.48 L219.21,553.96 L219.21,550.45 L219.21,546.93 L219.21,543.42 L219.21,539.91 L219.21,536.39 L219.21,532.88 L219.21,529.36 L219.21,525.85 L219.21,522.34 L219.21,518.82 L219.21,515.31 L219.21,511.79 L219.21,508.28 L219.21,504.77 L219.21,501.25 L219.21,497.74 L219.21,494.22 L219.21,490.71 L219.21,487.20 L219.21,483.68 L219.21,480.17 L219.21,476.65 L219.21,473.14 L219.21,469.63 L219.21,466.11 L219.21,462.60 L219.21,459.08 L219.21,455.57 L219.21,452.06 L219.21,448.54 L219.21,445.03 L219.21,441.51 L219.21,438.00 L219.21,434.49 L219.21,430.97 L219.21,427.46 L219.21,423.94 L219.21,420.43 L219.21,416.92 L219.21,413.40 L219.21,409.89 L219.21,406.37 L219.21,402.86 L219.21,399.35 L219.21,395.83 L219.21,392.32 L219.21,388.80 L219.21,385.29 L219.21,381.78 L219.21,378.26 L219.21,374.75 L219.21,371.24 L219.21,367.72 L219.21,364.21 L219.21,360.70 L219.20,357.18 L219.20,353.67 L219.20,350.16 L219.20,346.64 L219.20,343.13 L219.20,339.62 L219.20,336.11 L219.19,332.60 L219.19,329.09 L219.19,325.58 L219.18,322.07 L219.17,318.56 L219.17,315.05 L219.16,311.54 L219.15,308.04 L219.14,304.54 L219.13,301.04 L219.11,297.54 L219.09,294.04 L219.07,290.55 L219.04,287.07 L219.01,283.58 L218.97,280.11 L218.92,276.64 L218.87,273.18 L218.80,269.73 L218.73,266.30 L218.63,262.87 L218.52,259.47 L218.39,256.08 L218.24,252.72 L218.06,249.39 L217.85,246.09 L217.59,242.83 L217.29,239.61 L216.94,236.45 L216.54,233.34 L216.06,230.30 L215.50,227.34 L214.86,224.47 L214.12,221.69 L213.27,219.03 L212.30,216.48 L211.21,214.06 L209.97,211.78 L208.59,209.64 L207.07,207.65 L205.38,205.82 L203.54,204.14 L201.55,202.61 L199.41,201.23 L197.12,200.00 L194.69,198.91 L192.14,197.94 L189.47,197.10 L186.69,196.36 L183.81,195.72 L180.84,195.16 L177.80,194.69 L174.68,194.28 L171.51,193.93 L168.29,193.63 L165.02,193.38 L161.71,193.17 L158.37,192.98 L155.00,192.83 L151.61,192.70 L148.20,192.59 L144.77,192.50 L141.33,192.42 L137.87,192.36 L134.40,192.30 L130.93,192.26 L127.44,192.22 L123.96,192.19 L120.46,192.16 L116.96,192.14 L113.46,192.12 L109.95,192.10 L106.45,192.09 L102.94,192.08 L99.42,192.07 L95.91,192.06 L92.39,192.05 L88.88,192.05 L85.36,192.04 L81.84,192.04 L78.33,192.04 L74.81,192.03 L71.29,192.03 L67.77,192.03 L64.25,192.03 L60.73,192.03 L57.21,192.02 L53.69,192.02 L50.16,192.02 L46.64,192.02 L43.12,192.02 L39.60,192.02 L36.08,192.02 L32.56,192.02 L29.04,192.02 L25.52,192.02 L21.99,192.02 L18.47,192.02 L14.95,192.02 L11.43,192.02 L7.91,192.02 L4.39,192.02 L0.86,192.02 L-2.66,192.02 L-6.18,192.02 L-9.70,192.02 L-13.22,192.02 L-16.74,192.02 L-20.26,192.02 L-23.79,192.02 L-27.31,192.02 L-30.83,192.02 L-34.35,192.02 L-37.87,192.02 L-41.39,192.02 L-44.92,192.02 L-48.44,192.02 L-51.96,192.02 L-55.48,192.02 L-59.00,192.02 L-62.53,192.02 L-66.05,192.02 L-69.57,192.02 L-73.09,192.02 L-76.61,192.02 L-80.13,192.02 L-83.66,192.02 L-87.18,192.02 L-90.70,192.02 L-94.22,192.02 L-97.74,192.02 L-101.26,192.02 L-104.79,192.02 L-108.31,192.02 L-111.83,192.02 L-115.35,192.02 L-118.87,192.02 L-122.39,192.02 L-125.92,192.02 L-129.44,192.02 L-132.96,192.02 L-136.48,192.02 L-140.00,192.02 L-143.52,192.02 L-147.05,192.02 L-150.57,192.02 L-154.09,192.02 L-157.61,192.02 L-161.13,192.02 L-164.65,192.02 L-168.18,192.02 L-171.70,192.02 L-175.22,192.02 L-178.74,192.02 L-182.26,192.02 L-185.78,192.02 L-189.31,192.02 L-192.83,192.02 L-196.35,192.02 L-199.87,192.02 L-203.39,192.02" stroke="#ff7f0e" stroke-width="2.2" stroke-dasharray="4.6 0.8 1.0 0.8"/>
<path d="M209.87,623.02 L209.87,619.51 L209.87,615.99 L209.87,612.48 L209.87,608.96 L209.87,605.45 L209.87,601.94 L209.87,598.42 L209.87,594.91 L209.87,591.39 L209.87,587.88 L209.87,584.37 L209.87,580.85 L209.87,577.34 L209.87,573.82 L209.87,570.31 L209.87,566.80 L209.87,563.28 L209.87,559.77 L209.87,556.25 L209.87,552.74 L209.87,549.23 L209.87,545.71 L209.87,542.20 L209.87,538.68 L209.87,535.17 L209.87,531.66 L209.87,528.14 L209.87,524.63 L209.87,521.11 L209.87,517.60 L209.87,514.09 L209.87,510.57 L209.87,507.06 L209.87,503.54 L209.87,500.03 L209.87,496.52 L209.87,493.00 L209.87,489.49 L209.87,485.97 L209.87,482.46 L209.87,478.95 L209.87,475.43 L209.87,471.92 L209.87,468.40 L209.87,464.89 L209.87,461.38 L209.87,457.86 L209.87,454.35 L209.87,450.83 L209.87,447.32 L209.87,443.81 L209.87,440.29 L209.87,436.78 L209.87,433.26 L209.87,429.75 L209.87,426.24 L209.87,422.72 L209.87,419.21 L209.87,415.69 L209.87,412.18 L209.87,408.67 L209.87,405.15 L209.87,401.64 L209.87,398.12 L209.87,394.61 L209.87,391.10 L209.87,387.58 L209.87,384.07 L209.87,380.56 L209.87,377.04 L209.87,373.53 L209.87,370.02 L209.86,366.50 L209.86,362.99 L209.86,359.48 L209.86,355.96 L209.86,352.45 L209.86,348.94 L209.86,345.43 L209.85,341.92 L209.85,338.41 L209.85,334.90 L209.84,331.39 L209.83,327.88 L209.83,324.37 L209.82,320.86 L209.81,317.36 L209.80,313.86 L209.79,310.36 L209.77,306.86 L209.75,303.36 L209.73,299.87 L209.70,296.39 L209.67,292.90 L209.63,289.43 L209.58,285.96 L209.53,282.50 L209.46,279.05 L209.39,275.62 L209.29,272.19 L209.18,268.79 L209.05,265.40 L208.90,262.04 L208.72,258.71 L208.50,255.41 L208.25,252.15 L207.95,248.93 L207.60,245.77 L207.20,242.66 L206.72,239.62 L206.16,236.66 L205.52,233.79 L204.78,231.01 L203.93,228.35 L202.96,225.80 L201.87,223.38 L200.63,221.10 L199.25,218.96 L197.72,216.97 L196.04,215.14 L194.20,213.46 L192.21,211.93 L190.07,210.55 L187.78,209.32 L185.35,208.23 L182.80,207.26 L180.13,206.42 L177.35,205.68 L174.47,205.04 L171.50,204.48 L168.46,204.01 L165.34,203.60 L162.17,203.25 L158.95,202.95 L155.68,202.70 L152.37,202.49 L149.03,202.30 L145.66,202.15 L142.27,202.02 L138.86,201.91 L135.43,201.82 L131.99,201.74 L128.53,201.68 L125.06,201.62 L121.59,201.58 L118.10,201.54 L114.61,201.51 L111.12,201.48 L107.62,201.46 L104.12,201.44 L100.61,201.42 L97.11,201.41 L93.60,201.40 L90.08,201.39 L86.57,201.38 L83.05,201.37 L79.54,201.37 L76.02,201.36 L72.50,201.36 L68.99,201.36 L65.47,201.35 L61.95,201.35 L58.43,201.35 L54.91,201.35 L51.39,201.35 L47.87,201.34 L44.35,201.34 L40.82,201.34 L37.30,201.34 L33.78,201.34 L30.26,201.34 L26.74,201.34 L23.22,201.34 L19.70,201.34 L16.18,201.34 L12.65,201.34 L9.13,201.34 L5.61,201.34 L2.09,201.34 L-1.43,201.34 L-4.95,201.34 L-8.48,201.34 L-12.00,201.34 L-15.52,201.34 L-19.04,201.34 L-22.56,201.34 L-26.08,201.34 L-29.61,201.34 L-33.13,201.34 L-36.65,201.34 L-40.17,201.34 L-43.69,201.34 L-47.21,201.34 L-50.74,201.34 L-54.26,201.34 L-57.78,201.34 L-61.30,201.34 L-64.82,201.34 L-68.34,201.34 L-71.87,201.34 L-75.39,201.34 L-78.91,201.34 L-82.43,201.34 L-85.95,201.34 L-89.47,201.34 L-93.00,201.34 L-96.52,201.34 L-100.04,201.34 L-103.56,201.34 L-107.08,201.34 L-110.60,201.34 L-114.13,201.34 L-117.65,201.34 L-121.17,201.34 L-124.69,201.34 L-128.21,201.34 L-131.73,201.34 L-135.26,201.34 L-138.78,201.34 L-142.30,201.34 L-145.82,201.34 L-149.34,201.34 L-152.86,201.34 L-156.39,201.34 L-159.91,201.34 L-163.43,201.34 L-166.95,201.34 L-170.47,201.34 L-173.99,201.34 L-177.52,201.34 L-181.04,201.34 L-184.56,201.34 L-188.08,201.34 L-191.60,201.34 L-195.12,201.34 L-198.65,201.34 L-202.17,201.34 L-205.69,201.34 L-209.21,201.34 L-212.73,201.34" stroke="#ff7f0e" stroke-width="2.2" stroke-dasharray="4.6 0.8 1.0 0.8"/>
<path d="M202.11,630.77 L202.11,627.25 L202.11,623.74 L202.11,620.22 L202.11,616.71 L202.11,613.20 L202.11,609.68 L202.11,606.17 L202.11,602.65 L202.11,599.14 L202.11,595.63 L202.11,592.11 L202.11,588.60 L202.11,585.08 L202.11,581.57 L202.11,578.06 L202.11,574.54 L202.11,571.03 L202.11,567.51 L202.11,564.00 L202.11,560.49 L202.11,556.97 L202.11,553.46 L202.11,549.94 L202.11,546.43 L202.11,542.92 L202.11,539.40 L202.11,535.89 L202.11,532.37 L202.11,528.86 L202.11,525.35 L202.11,521.83 L202.11,518.32 L202.11,514.80 L202.11,511.29 L202.11,507.78 L202.11,504.26 L202.11,500.75 L202.11,497.23 L202.11,493.72 L202.11,490.21 L202.11,486.69 L202.11,483.18 L202.11,479.66 L202.11,476.15 L202.11,472.64 L202.11,469.12 L202.11,465.61 L202.11,462.09 L202.11,458.58 L202.11,455.07 L202.11,451.55 L202.11,448.04 L202.11,444.52 L202.11,441.01 L202.11,437.50 L202.11,433.98 L202.11,430.47 L202.11,426.95 L202.11,423.44 L202.11,419.93 L202.11,416.41 L202.11,412.90 L202.11,409.38 L202.11,405.87 L202.11,402.36 L202.10,398.84 L202.10,395.33 L202.10,391.82 L202.10,388.30 L202.10,384.79 L202.10,381.27 L202.10,377.76 L202.10,374.25 L202.10,370.73 L202.10,367.22 L202.10,363.71 L202.10,360.20 L202.09,356.68 L202.09,353.17 L202.09,349.66 L202.09,346.15 L202.08,342.64 L202.08,339.13 L202.07,335.62 L202.07,332.12 L202.06,328.61 L202.05,325.11 L202.04,321.60 L202.02,318.10 L202.01,314.60 L201.99,311.11 L201.96,307.62 L201.94,304.13 L201.90,300.65 L201.87,297.17 L201.82,293.71 L201.77,290.25 L201.70,286.80 L201.62,283.36 L201.53,279.94 L201.42,276.53 L201.29,273.15 L201.14,269.79 L200.96,266.46 L200.74,263.16 L200.49,259.89 L200.19,256.68 L199.84,253.51 L199.43,250.41 L198.95,247.37 L198.40,244.41 L197.76,241.54 L197.02,238.76 L196.17,236.09 L195.20,233.55 L194.10,231.13 L192.87,228.84 L191.49,226.70 L189.96,224.72 L188.28,222.88 L186.44,221.20 L184.45,219.68 L182.30,218.30 L180.02,217.07 L177.59,215.98 L175.04,215.01 L172.36,214.16 L169.58,213.42 L166.70,212.78 L163.74,212.23 L160.69,211.75 L157.58,211.34 L154.41,211.00 L151.19,210.70 L147.92,210.45 L144.61,210.23 L141.27,210.05 L137.90,209.90 L134.51,209.77 L131.10,209.66 L127.67,209.57 L124.22,209.49 L120.77,209.42 L117.30,209.37 L113.82,209.32 L110.34,209.29 L106.85,209.25 L103.36,209.23 L99.86,209.20 L96.36,209.18 L92.85,209.17 L89.34,209.15 L85.83,209.14 L82.32,209.13 L78.81,209.13 L75.29,209.12 L71.78,209.11 L68.26,209.11 L64.74,209.10 L61.22,209.10 L57.70,209.10 L54.18,209.10 L50.66,209.09 L47.14,209.09 L43.62,209.09 L40.10,209.09 L36.58,209.09 L33.06,209.09 L29.54,209.09 L26.02,209.09 L22.50,209.09 L18.98,209.09 L15.46,209.09 L11.93,209.09 L8.41,209.09 L4.89,209.09 L1.37,209.09 L-2.15,209.09 L-5.67,209.08 L-9.20,209.08 L-12.72,209.08 L-16.24,209.08 L-19.76,209.08 L-23.28,209.08 L-26.80,209.08 L-30.32,209.08 L-33.85,209.08 L-37.37,209.08 L-40.89,209.08 L-44.41,209.08 L-47.93,209.08 L-51.45,209.08 L-54.98,209.08 L-58.50,209.08 L-62.02,209.08 L-65.54,209.08 L-69.06,209.08 L-72.58,209.08 L-76.11,209.08 L-79.63,209.08 L-83.15,209.08 L-86.67,209.08 L-90.19,209.08 L-93.72,209.08 L-97.24,209.08 L-100.76,209.08 L-104.28,209.08 L-107.80,209.08 L-111.32,209.08 L-114.85,209.08 L-118.37,209.08 L-121.89,209.08 L-125.41,209.08 L-128.93,209.08 L-132.45,209.08 L-135.98,209.08 L-139.50,209.08 L-143.02,209.08 L-146.54,209.08 L-150.06,209.08 L-153.58,209.08 L-157.11,209.08 L-160.63,209.08 L-164.15,209.08 L-167.67,209.08 L-171.19,209.08 L-174.71,209.08 L-178.24,209.08 L-181.76,209.08 L-185.28,209.08 L-188.80,209.08 L-192.32,209.08 L-195.84,209.08 L-199.37,209.08 L-202.89,209.08 L-206.41,209.08 L-209.93,209.08 L-213.45,209.08 L-216.97,209.08 L-220.50,209.08" stroke="#bcbd22" stroke-width="2.1" stroke-dasharray="4.6 0.8 1.0 0.8"/>
</g>
<path d="M160,241.3 L177.5,217.8" stroke="#ff7f0e" stroke-width="0.7" fill="none"/>
<path d="M184,209 L173.4,217.25 L179.4,221.5 Z" fill="#ff7f0e"/>
<path d="M48.21,367.80 v-2.50 M48.21,13.85 v2.50 M43.40,362.65 h2.50 M397.30,362.65 h-2.50 M54.36,367.80 v-2.50 M54.36,13.85 v2.50 M43.40,356.51 h2.50 M397.30,356.51 h-2.50 M59.69,367.80 v-2.50 M59.69,13.85 v2.50 M43.40,351.19 h2.50 M397.30,351.19 h-2.50 M64.39,367.80 v-2.50 M64.39,13.85 v2.50 M43.40,346.50 h2.50 M397.30,346.50 h-2.50 M68.59,367.80 v-5.00 M68.59,13.85 v5.00 M43.40,342.31 h5.00 M397.30,342.31 h-5.00 M96.25,367.80 v-2.50 M96.25,13.85 v2.50 M43.40,314.71 h2.50 M397.30,314.71 h-2.50 M112.42,367.80 v-2.50 M112.42,13.85 v2.50 M43.40,298.57 h2.50 M397.30,298.57 h-2.50 M123.90,367.80 v-2.50 M123.90,13.85 v2.50 M43.40,287.12 h2.50 M397.30,287.12 h-2.50 M132.80,367.80 v-2.50 M132.80,13.85 v2.50 M43.40,278.24 h2.50 M397.30,278.24 h-2.50 M140.08,367.80 v-2.50 M140.08,13.85 v2.50 M43.40,270.98 h2.50 M397.30,270.98 h-2.50 M146.23,367.80 v-2.50 M146.23,13.85 v2.50 M43.40,264.84 h2.50 M397.30,264.84 h-2.50 M151.56,367.80 v-2.50 M151.56,13.85 v2.50 M43.40,259.52 h2.50 M397.30,259.52 h-2.50 M156.26,367.80 v-2.50 M156.26,13.85 v2.50 M43.40,254.83 h2.50 M397.30,254.83 h-2.50 M160.46,367.80 v-5.00 M160.46,13.85 v5.00 M43.40,250.64 h5.00 M397.30,250.64 h-5.00 M188.12,367.80 v-2.50 M188.12,13.85 v2.50 M43.40,223.04 h2.50 M397.30,223.04 h-2.50 M204.29,367.80 v-2.50 M204.29,13.85 v2.50 M43.40,206.90 h2.50 M397.30,206.90 h-2.50 M215.77,367.80 v-2.50 M215.77,13.85 v2.50 M43.40,195.45 h2.50 M397.30,195.45 h-2.50 M224.67,367.80 v-2.50 M224.67,13.85 v2.50 M43.40,186.57 h2.50 M397.30,186.57 h-2.50 M231.95,367.80 v-2.50 M231.95,13.85 v2.50 M43.40,179.31 h2.50 M397.30,179.31 h-2.50 M238.10,367.80 v-2.50 M238.10,13.85 v2.50 M43.40,173.17 h2.50 M397.30,173.17 h-2.50 M243.43,367.80 v-2.50 M243.43,13.85 v2.50 M43.40,167.85 h2.50 M397.30,167.85 h-2.50 M248.13,367.80 v-2.50 M248.13,13.85 v2.50 M43.40,163.16 h2.50 M397.30,163.16 h-2.50 M252.33,367.80 v-5.00 M252.33,13.85 v5.00 M43.40,158.97 h5.00 M397.30,158.97 h-5.00 M279.99,367.80 v-2.50 M279.99,13.85 v2.50 M43.40,131.37 h2.50 M397.30,131.37 h-2.50 M296.16,367.80 v-2.50 M296.16,13.85 v2.50 M43.40,115.23 h2.50 M397.30,115.23 h-2.50 M307.64,367.80 v-2.50 M307.64,13.85 v2.50 M43.40,103.78 h2.50 M397.30,103.78 h-2.50 M316.54,367.80 v-2.50 M316.54,13.85 v2.50 M43.40,94.90 h2.50 M397.30,94.90 h-2.50 M323.82,367.80 v-2.50 M323.82,13.85 v2.50 M43.40,87.64 h2.50 M397.30,87.64 h-2.50 M329.97,367.80 v-2.50 M329.97,13.85 v2.50 M43.40,81.50 h2.50 M397.30,81.50 h-2.50 M335.30,367.80 v-2.50 M335.30,13.85 v2.50 M43.40,76.18 h2.50 M397.30,76.18 h-2.50 M340.00,367.80 v-2.50 M340.00,13.85 v2.50 M43.40,71.49 h2.50 M397.30,71.49 h-2.50 M344.20,367.80 v-5.00 M344.20,13.85 v5.00 M43.40,67.30 h5.00 M397.30,67.30 h-5.00 M371.86,367.80 v-2.50 M371.86,13.85 v2.50 M43.40,39.70 h2.50 M397.30,39.70 h-2.50 M388.03,367.80 v-2.50 M388.03,13.85 v2.50 M43.40,23.56 h2.50 M397.30,23.56 h-2.50" stroke="#111" stroke-width="0.7" fill="none"/>
<rect x="43.40" y="13.85" width="353.90" height="353.95" fill="none" stroke="#262626" stroke-width="0.8"/>
<g transform="translate(59.19,379.80) rotate(0.0) scale(1.0000,1)" fill="#1c1c1c"><text transform="translate(0.00,0.00) scale(0.881,1)" font-size="11.80">10</text><text transform="translate(10.50,-4.00) scale(1.118,1)" font-size="7.40">−5</text></g>
<g transform="translate(21.40,346.21) rotate(0.0) scale(1.0000,1)" fill="#1c1c1c"><text transform="translate(0.00,0.00) scale(0.881,1)" font-size="11.80">10</text><text transform="translate(10.50,-4.00) scale(1.118,1)" font-size="7.40">−5</text></g>
<g transform="translate(151.06,379.80) rotate(0.0) scale(1.0000,1)" fill="#1c1c1c"><text transform="translate(0.00,0.00) scale(0.881,1)" font-size="11.80">10</text><text transform="translate(10.50,-4.00) scale(1.118,1)" font-size="7.40">−4</text></g>
<g transform="translate(21.40,254.54) rotate(0.0) scale(1.0000,1)" fill="#1c1c1c"><text transform="translate(0.00,0.00) scale(0.881,1)" font-size="11.80">10</text><text transform="translate(10.50,-4.00) scale(1.118,1)" font-size="7.40">−4</text></g>
<g transform="translate(242.93,379.80) rotate(0.0) scale(1.0000,1)" fill="#1c1c1c"><text transform="translate(0.00,0.00) scale(0.881,1)" font-size="11.80">10</text><text transform="translate(10.50,-4.00) scale(1.118,1)" font-size="7.40">−3</text></g>
<g transform="translate(21.40,162.87) rotate(0.0) scale(1.0000,1)" fill="#1c1c1c"><text transform="translate(0.00,0.00) scale(0.881,1)" font-size="11.80">10</text><text transform="translate(10.50,-4.00) scale(1.118,1)" font-size="7.40">−3</text></g>
<g transform="translate(334.80,379.80) rotate(0.0) scale(1.0000,1)" fill="#1c1c1c"><text transform="translate(0.00,0.00) scale(0.881,1)" font-size="11.80">10</text><text transform="translate(10.50,-4.00) scale(1.118,1)" font-size="7.40">−2</text></g>
<g transform="translate(21.40,71.20) rotate(0.0) scale(1.0000,1)" fill="#1c1c1c"><text transform="translate(0.00,0.00) scale(0.881,1)" font-size="11.80">10</text><text transform="translate(10.50,-4.00) scale(1.118,1)" font-size="7.40">−2</text></g>
<g transform="translate(56.00,42.50) rotate(0.0) scale(1.0000,1)" fill="#1c1c1c"><text transform="translate(0.00,0.00) scale(1.081,1)" font-size="10.60" class="i">τ</text><path d="M4.55,-2.15 H11.45 M9.15,-3.90 Q10.32,-2.59 11.75,-2.15 Q10.32,-1.71 9.15,-0.40" fill="none" stroke="#1c1c1c" stroke-width="0.65" stroke-linecap="butt"/><text transform="translate(12.35,0.00) scale(1.071,1)" font-size="10.60" class="i">μ</text><text transform="translate(18.05,0.00) scale(1.413,1)" font-size="10.60" class="i">γ</text></g>
<g transform="translate(56.00,117.80) rotate(0.0) scale(1.0000,1)" fill="#1c1c1c"><text transform="translate(0.00,0.00) scale(1.081,1)" font-size="10.60" class="i">τ</text><path d="M4.55,-2.15 H11.45 M9.15,-3.90 Q10.32,-2.59 11.75,-2.15 Q10.32,-1.71 9.15,-0.40" fill="none" stroke="#1c1c1c" stroke-width="0.65" stroke-linecap="butt"/><text transform="translate(12.35,0.00) scale(1.071,1)" font-size="10.60" class="i">μ</text><text transform="translate(18.05,0.00) scale(1.413,1)" font-size="10.60" class="i">γ</text><text transform="translate(26.45,-0.90) scale(0.995,1)" font-size="7.20" stroke="#1c1c1c" stroke-width="0.18">@</text><text transform="translate(36.55,0.00) scale(1.063,1)" font-size="10.10" stroke="#1c1c1c" stroke-width="0.12">Belle II with 50/ab</text></g>
<g transform="translate(55.40,138.50) rotate(0.0) scale(1.0000,1)" fill="#d62728"><text transform="translate(0.00,0.00) scale(1.040,1)" font-size="10.10">h</text><path d="M5.60,-2.15 H13.10 M10.80,-3.90 Q11.97,-2.59 13.40,-2.15 Q11.97,-1.71 10.80,-0.40" fill="none" stroke="#d62728" stroke-width="0.65" stroke-linecap="butt"/><text transform="translate(14.00,0.00) scale(1.160,1)" font-size="10.60" class="i">τ</text><text transform="translate(19.00,0.00) scale(1.184,1)" font-size="10.60" class="i" stroke="#f6c9ca" stroke-width="0.22">μ</text></g>
<g transform="translate(52.80,170.70) rotate(0.0) scale(1.0000,1)" fill="#bcbd22"><text transform="translate(0.00,0.00) scale(1.040,1)" font-size="10.10">h</text><path d="M5.60,-2.15 H13.10 M10.80,-3.90 Q11.97,-2.59 13.40,-2.15 Q11.97,-1.71 10.80,-0.40" fill="none" stroke="#bcbd22" stroke-width="0.65" stroke-linecap="butt"/><text transform="translate(14.00,0.00) scale(1.160,1)" font-size="10.60" class="i">τ</text><text transform="translate(19.00,0.00) scale(1.184,1)" font-size="10.60" class="i" stroke="#fff" stroke-width="0.22">μ</text><text transform="translate(27.80,-0.90) scale(0.995,1)" font-size="7.20" stroke="#bcbd22" stroke-width="0.18">@</text><text transform="translate(36.70,0.00) scale(1.047,1)" font-size="10.10">HL−LHC</text></g>
<g transform="translate(56.80,187.80) rotate(0.0) scale(1.0000,1)" fill="#ff7f0e"><text transform="translate(0.00,0.00) scale(1.040,1)" font-size="10.10">h</text><path d="M5.60,-2.15 H13.10 M10.80,-3.90 Q11.97,-2.59 13.40,-2.15 Q11.97,-1.71 10.80,-0.40" fill="none" stroke="#ff7f0e" stroke-width="0.65" stroke-linecap="butt"/><text transform="translate(14.00,0.00) scale(1.160,1)" font-size="10.60" class="i">τ</text><text transform="translate(19.00,0.00) scale(1.184,1)" font-size="10.60" class="i" stroke="#fff" stroke-width="0.22">μ</text><text transform="translate(27.80,-0.90) scale(0.995,1)" font-size="7.20" stroke="#ff7f0e" stroke-width="0.18">@</text><text transform="translate(36.70,0.00) scale(0.983,1)" font-size="10.10">ILC</text></g>
<g transform="translate(52.80,221.50) rotate(0.0) scale(1.0000,1)" fill="#bcbd22"><text transform="translate(0.00,0.00) scale(1.040,1)" font-size="10.10">h</text><path d="M5.60,-2.15 H13.10 M10.80,-3.90 Q11.97,-2.59 13.40,-2.15 Q11.97,-1.71 10.80,-0.40" fill="none" stroke="#bcbd22" stroke-width="0.65" stroke-linecap="butt"/><text transform="translate(14.00,0.00) scale(1.160,1)" font-size="10.60" class="i">τ</text><text transform="translate(19.00,0.00) scale(1.184,1)" font-size="10.60" class="i" stroke="#fff" stroke-width="0.22">μ</text><text transform="translate(27.80,-0.90) scale(0.995,1)" font-size="7.20" stroke="#bcbd22" stroke-width="0.18">@</text><text transform="translate(36.70,0.00) scale(1.047,1)" font-size="10.10">HL−LHC</text></g>
<g transform="translate(65.20,230.70) rotate(0.0) scale(1.0000,1)" fill="#bcbd22"><text transform="translate(0.00,0.00) scale(1.129,1)" font-size="10.10">(optimistic)</text></g>
<g transform="translate(54.40,249.00) rotate(0.0) scale(1.0000,1)" fill="#ff7f0e"><text transform="translate(0.00,0.00) scale(1.040,1)" font-size="10.10">h</text><path d="M5.60,-2.15 H13.10 M10.80,-3.90 Q11.97,-2.59 13.40,-2.15 Q11.97,-1.71 10.80,-0.40" fill="none" stroke="#ff7f0e" stroke-width="0.65" stroke-linecap="butt"/><text transform="translate(14.00,0.00) scale(1.160,1)" font-size="10.60" class="i">τ</text><text transform="translate(19.00,0.00) scale(1.184,1)" font-size="10.60" class="i" stroke="#fff" stroke-width="0.22">μ</text><text transform="translate(27.80,-0.90) scale(0.995,1)" font-size="7.20" stroke="#ff7f0e" stroke-width="0.18">@</text><text transform="translate(36.70,0.00) scale(1.058,1)" font-size="10.10">CEPC/FCC−ee</text></g>
<g transform="translate(112.90,337.90) rotate(90.0) scale(1.0000,1)" fill="#1f77b4"><text transform="translate(0.00,0.00) scale(1.020,1)" font-size="9.80" stroke="#1f77b4" stroke-width="0.10">10</text><text transform="translate(10.30,-3.90) scale(1.138,1)" font-size="7.60" stroke="#1f77b4" stroke-width="0.10">−6</text></g>
<g transform="translate(160.90,337.90) rotate(90.0) scale(1.0000,1)" fill="#1f77b4"><text transform="translate(0.00,0.00) scale(1.020,1)" font-size="9.80" stroke="#1f77b4" stroke-width="0.10">10</text><text transform="translate(10.30,-3.90) scale(1.138,1)" font-size="7.60" stroke="#1f77b4" stroke-width="0.10">−5</text></g>
<g transform="translate(188.90,337.90) rotate(90.0) scale(1.0000,1)" fill="#1f77b4"><text transform="translate(0.00,0.00) scale(1.020,1)" font-size="9.80" stroke="#1f77b4" stroke-width="0.10">10</text><text transform="translate(10.30,-3.90) scale(1.138,1)" font-size="7.60" stroke="#1f77b4" stroke-width="0.10">−4</text></g>
<g transform="translate(254.40,275.50) rotate(90.0) scale(1.0000,1)" fill="#1f77b4"><text transform="translate(0.50,0.00) scale(1.055,1)" font-size="9.80" stroke="#1f77b4" stroke-width="0.12">BR(h</text><path d="M22.20,-2.15 H30.90 M28.60,-3.90 Q29.77,-2.59 31.20,-2.15 Q29.77,-1.71 28.60,-0.40" fill="none" stroke="#1f77b4" stroke-width="0.65" stroke-linecap="butt"/><text transform="translate(31.80,0.00) scale(0.973,1)" font-size="11.20" class="i">τ</text><text transform="translate(36.30,0.00) scale(0.836,1)" font-size="11.20" class="i">μ</text><text transform="translate(41.30,0.00) scale(1.195,1)" font-size="9.80" stroke="#1f77b4" stroke-width="0.12">)</text><text transform="translate(44.20,0.00) scale(1.122,1)" font-size="9.80" stroke="#1f77b4" stroke-width="0.12">=</text><text transform="translate(51.80,0.00) scale(1.020,1)" font-size="9.80" stroke="#1f77b4" stroke-width="0.12">10</text><text transform="translate(62.90,-4.20) scale(1.097,1)" font-size="7.20" stroke="#1f77b4" stroke-width="0.12">−3</text></g>
<g transform="translate(227.30,25.80) rotate(90.0) scale(1.0000,1)" fill="#2ca02c"><text transform="translate(0.00,0.00) scale(1.237,1)" font-size="10.10" class="i" stroke="#f6c9ca" stroke-width="0.10">Y</text><text transform="translate(7.25,1.90) scale(1.226,1)" font-size="7.40" class="i">μτ</text><text transform="translate(18.05,0.00) scale(1.023,1)" font-size="10.40">=</text><text transform="translate(27.25,0.00) scale(1.193,1)" font-size="10.10" class="i" stroke="#f6c9ca" stroke-width="0.10">m</text><text transform="translate(35.95,1.90) scale(1.265,1)" font-size="7.40" class="i">μ</text><text transform="translate(40.75,0.00) scale(1.105,1)" font-size="10.10">/</text><text transform="translate(44.15,0.00) scale(1.160,1)" font-size="10.10" class="i">v</text></g>
<g transform="translate(292.90,203.70) rotate(0.0) scale(0.9900,1)" fill="#2ca02c"><text transform="translate(0.00,0.00) scale(1.237,1)" font-size="10.10" class="i" stroke="#f6c9ca" stroke-width="0.10">Y</text><text transform="translate(7.25,1.90) scale(1.226,1)" font-size="7.40" class="i">τμ</text><text transform="translate(18.05,0.00) scale(1.023,1)" font-size="10.40">=</text><text transform="translate(27.25,0.00) scale(1.193,1)" font-size="10.10" class="i" stroke="#f6c9ca" stroke-width="0.10">m</text><text transform="translate(35.95,1.90) scale(1.265,1)" font-size="7.40" class="i">μ</text><text transform="translate(40.75,0.00) scale(1.105,1)" font-size="10.10">/</text><text transform="translate(44.15,0.00) scale(1.160,1)" font-size="10.10" class="i">v</text></g>
<g transform="translate(251.80,104.80) rotate(45.0) scale(0.9750,1)" fill="#2ca02c"><text transform="translate(0.00,0.00) scale(1.237,1)" font-size="10.10" class="i" stroke="#f6c9ca" stroke-width="0.10">Y</text><text transform="translate(7.15,1.90) scale(1.116,1)" font-size="7.40" class="i">μτ</text><text transform="translate(14.60,0.00) scale(1.237,1)" font-size="10.10" class="i" stroke="#f6c9ca" stroke-width="0.10">Y</text><text transform="translate(21.75,1.90) scale(1.116,1)" font-size="7.40" class="i">τμ</text><text transform="translate(31.60,0.00) scale(1.018,1)" font-size="10.10">=</text><text transform="translate(40.70,0.00) scale(1.246,1)" font-size="10.10" class="i" stroke="#f6c9ca" stroke-width="0.10">m</text><text transform="translate(49.79,1.90) scale(1.294,1)" font-size="7.40" class="i">μ</text><text transform="translate(54.60,0.00) scale(1.246,1)" font-size="10.10" class="i" stroke="#f6c9ca" stroke-width="0.10">m</text><text transform="translate(63.69,1.90) scale(1.342,1)" font-size="7.40" class="i">τ</text><text transform="translate(67.44,0.00) scale(1.154,1)" font-size="10.10">/</text><text transform="translate(70.98,0.00) scale(1.166,1)" font-size="10.10" class="i">v</text><text transform="translate(76.51,-4.00) scale(1.199,1)" font-size="6.80">2</text></g>
<g transform="translate(174.70,396.20) rotate(0.0) scale(1.0000,1)" fill="#262626"><text transform="translate(-1.10,0.00) scale(1.265,1)" font-size="11.80" class="i">Y</text><text transform="translate(7.20,2.50) scale(1.315,1)" font-size="8.40" class="i">μτ</text><text transform="translate(19.90,0.00) scale(1.142,1)" font-size="11.80">=</text><text transform="translate(30.50,0.00) scale(1.094,1)" font-size="11.80">(</text><text transform="translate(34.10,0.00) scale(1.218,1)" font-size="11.80" class="i">κ</text><text transform="translate(40.40,-5.00) scale(1.048,1)" font-size="8.40">2</text><text transform="translate(40.40,2.80) scale(1.315,1)" font-size="8.40" class="i">μτ</text><text transform="translate(57.30,0.00) scale(1.218,1)" font-size="11.80" class="i">κ</text><path d="M58.70,-7.7 q1.1,-1.3 2.3,-0.5 q1.2,0.8 2.3,-0.5" fill="none" stroke="#262626" stroke-width="0.7"/><text transform="translate(63.60,-5.00) scale(1.048,1)" font-size="8.40">2</text><text transform="translate(63.60,2.80) scale(1.315,1)" font-size="8.40" class="i">μτ</text><text transform="translate(50.30,0.00) scale(1.052,1)" font-size="11.80">+</text><text transform="translate(74.10,0.00) scale(1.094,1)" font-size="11.80">)</text><text transform="translate(78.20,-5.00) scale(1.397,1)" font-size="8.40">1/2</text></g>
<g transform="translate(11.00,235.80) rotate(-90.0) scale(1.0000,1)" fill="#262626"><text transform="translate(-3.50,0.00) scale(1.265,1)" font-size="11.80" class="i">Y</text><text transform="translate(4.40,2.50) scale(1.315,1)" font-size="8.40" class="i">τμ</text><text transform="translate(17.70,0.00) scale(1.142,1)" font-size="11.80">=</text><text transform="translate(28.80,0.00) scale(1.094,1)" font-size="11.80">(</text><text transform="translate(33.20,0.00) scale(1.218,1)" font-size="11.80" class="i">κ</text><text transform="translate(39.50,-5.00) scale(1.048,1)" font-size="8.40">2</text><text transform="translate(39.50,2.80) scale(1.315,1)" font-size="8.40" class="i">τμ</text><text transform="translate(57.30,0.00) scale(1.218,1)" font-size="11.80" class="i">κ</text><path d="M58.70,-7.7 q1.1,-1.3 2.3,-0.5 q1.2,0.8 2.3,-0.5" fill="none" stroke="#262626" stroke-width="0.7"/><text transform="translate(63.60,-5.00) scale(1.048,1)" font-size="8.40">2</text><text transform="translate(63.60,2.80) scale(1.315,1)" font-size="8.40" class="i">τμ</text><text transform="translate(50.00,0.00) scale(1.052,1)" font-size="11.80">+</text><text transform="translate(74.10,0.00) scale(1.094,1)" font-size="11.80">)</text><text transform="translate(78.20,-5.00) scale(1.397,1)" font-size="8.40">1/2</text></g>
</svg></body></html>
